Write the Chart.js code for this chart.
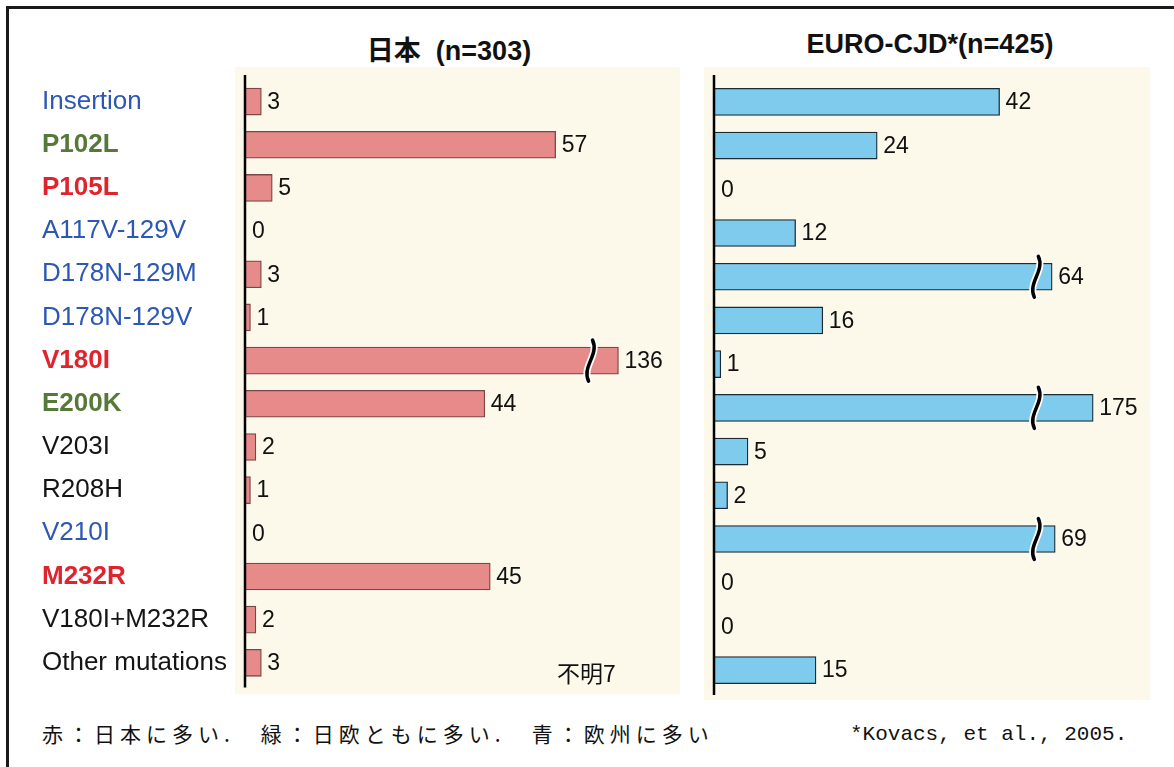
<!DOCTYPE html>
<html>
<head>
<meta charset="utf-8">
<script src="https://cdn.jsdelivr.net/npm/chart.js@4.4.1/dist/chart.umd.min.js"></script>
<style>
  body { margin: 0; background: #fff; }
  #page { position: relative; width: 1174px; height: 767px; overflow: hidden; background: #fff; }
  #frame { position: absolute; left: 6px; top: 6px; right: -10px; bottom: -10px; border-top: 3px solid #1a1a1a; border-left: 3px solid #1a1a1a; }
  canvas { position: absolute; }
  .txt { position: absolute; color: #111; white-space: pre; }
  .title { font: bold 27px "Liberation Sans", Arial, "Noto Sans CJK JP", sans-serif; text-align: center; }
</style>
</head>
<body>
<div id="page">
  <div id="frame"></div>
  <div class="txt title" id="jpTitle" style="left:299px; top:29px; width:300px;"></div>
  <div class="txt title" id="euTitle" style="left:780px; top:29px; width:300px;"></div>
  <canvas id="japan" width="660" height="640" style="left:30px; top:60px;"></canvas>
  <canvas id="euro" width="460" height="640" style="left:700px; top:60px;"></canvas>
  <div class="txt" id="jpUnknown" style="left:557px; top:655px; font: 23px 'Noto Sans CJK JP', sans-serif;"></div>
  <div class="txt" id="legendNote" style="left:42px; top:718px; font: 21px 'Noto Sans CJK JP', sans-serif; letter-spacing: 5px;"></div>
  <div class="txt" id="source" style="left:850px; top:723px; font: 21px 'Liberation Mono', 'DejaVu Sans Mono', monospace;"></div>
</div>
<script>
const mutations = ['Insertion', 'P102L', 'P105L', 'A117V-129V', 'D178N-129M', 'D178N-129V', 'V180I',
  'E200K', 'V203I', 'R208H', 'V210I', 'M232R', 'V180I+M232R', 'Other mutations']
// where each mutation is common: jp = Japan (red), both (green), eu = Europe (blue)
const prevalence = ['eu', 'both', 'jp', 'eu', 'eu', 'eu', 'jp', 'both', 'none', 'none', 'eu', 'jp', 'none', 'none']
const japanCounts = [3, 57, 5, 0, 3, 1, 136, 44, 2, 1, 0, 45, 2, 3]
const euroCounts = [42, 24, 0, 12, 64, 16, 1, 175, 5, 2, 69, 0, 0, 15]
const japanTitle = '日本  (n=303)'
const euroTitle = 'EURO-CJD*(n=425)'
const japanUnknown = '不明7'
const legendNote = '赤：日本に多い.　緑：日欧ともに多い.　青：欧州に多い'
const source = '*Kovacs, et al., 2005.'

document.getElementById('jpTitle').textContent = japanTitle
document.getElementById('euTitle').textContent = euroTitle
document.getElementById('jpUnknown').textContent = japanUnknown
document.getElementById('legendNote').textContent = legendNote
document.getElementById('source').textContent = source

const labelColors = { jp: '#e0242e', both: '#56793a', eu: '#2c58b4', none: '#151515' }

// long bars are drawn with a break: beyond brk the length is squeezed
const squeeze = ( values, brk ) => values.map( v => v > brk ? brk + 6 * Math.log( v / brk ) : v )

const labelFont = '"Liberation Sans", Arial, sans-serif'

const panelDecor = {
  id: 'panelDecor',
  beforeDraw( chart ) {
    const { ctx, chartArea: a } = chart
    ctx.save()
    ctx.fillStyle = '#fcf9eb'
    ctx.fillRect( a.left - 10, a.top - 13, a.right - a.left, a.bottom - a.top + 23 )
    ctx.restore()
  },
  afterDatasetsDraw( chart, args, opts ) {
    const { ctx, chartArea: a } = chart
    const xs = chart.scales.x
    const meta = chart.getDatasetMeta( 0 )
    ctx.save()
    ctx.strokeStyle = '#000'
    ctx.lineWidth = 2.5
    ctx.beginPath()
    ctx.moveTo( a.left, a.top - 5 )
    ctx.lineTo( a.left, a.bottom + 3 )
    ctx.stroke()

    ctx.font = '23px ' + labelFont
    ctx.fillStyle = '#111'
    ctx.textBaseline = 'middle'
    meta.data.forEach( ( bar, i ) => {
      const v = opts.counts[ i ]
      ctx.fillText( String( v ), Math.max( bar.x, a.left + 1 ) + 6, bar.y + 1 )
      if ( v > opts.brk ) {
        const x = xs.getPixelForValue( opts.brk - 0.6 )
        const h = bar.height / 2 + 7
        const wave = () => {
          ctx.beginPath()
          ctx.moveTo( x + 2, bar.y - h )
          ctx.bezierCurveTo( x + 9, bar.y - 6, x - 9, bar.y + 6, x - 2, bar.y + h )
          ctx.stroke()
        }
        ctx.lineCap = 'round'
        ctx.strokeStyle = '#fff'
        ctx.lineWidth = 7
        wave()
        ctx.strokeStyle = '#000'
        ctx.lineWidth = 3.5
        wave()
      }
    } )
    ctx.restore()
  }
}

function makeConfig( counts, brk, max, fill, border, showLabels ) {
  return {
    type: 'bar',
    data: {
      labels: mutations,
      datasets: [ {
        data: squeeze( counts, brk ),
        backgroundColor: fill,
        borderColor: border,
        borderWidth: 1.3,
        borderSkipped: 'start',
        barThickness: 27
      } ]
    },
    options: {
      indexAxis: 'y',
      responsive: false,
      animation: false,
      layout: { padding: { left: showLabels ? 12 : 14, right: 0, top: 20, bottom: 8 } },
      plugins: {
        legend: { display: false },
        tooltip: { enabled: false },
        panelDecor: { counts: counts, brk: brk }
      },
      scales: {
        x: { display: false, min: 0, max: max },
        y: {
          display: showLabels,
          grid: { display: false },
          border: { display: false },
          afterFit: scale => { scale.width = showLabels ? 203 : 0 },
          ticks: {
            crossAlign: 'far',
            padding: 0,
            color: c => labelColors[ prevalence[ c.index ] ],
            font: c => ( {
              family: labelFont,
              size: 26,
              weight: ( prevalence[ c.index ] === 'jp' || prevalence[ c.index ] === 'both' ) ? 'bold' : 'normal'
            } )
          }
        }
      }
    },
    plugins: [ panelDecor ]
  }
}

const japanChart = new Chart( document.getElementById( 'japan' ),
  makeConfig( japanCounts, 64, 445 / 5.45, '#e68b89', '#7b4745', true ) )
const euroChart = new Chart( document.getElementById( 'euro' ),
  makeConfig( euroCounts, 48, 446 / 6.8, '#7fcbee', '#1b2a33', false ) )
</script>
</body>
</html>
